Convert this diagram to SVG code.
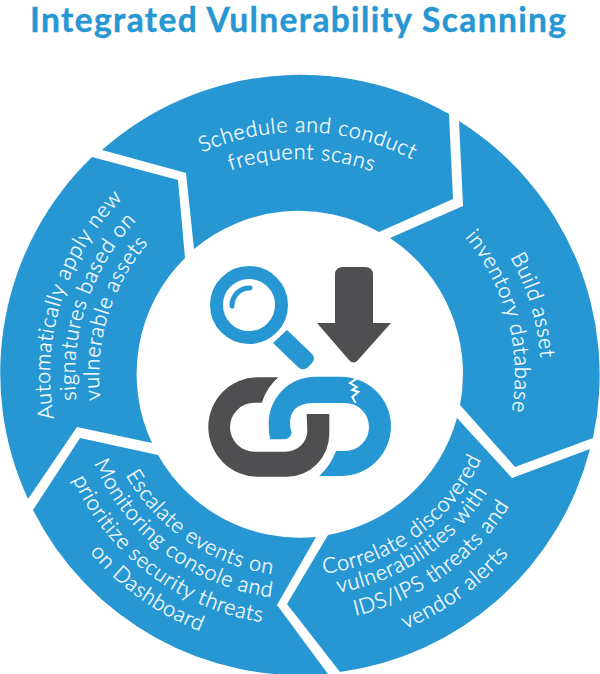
<svg xmlns="http://www.w3.org/2000/svg" width="600" height="674" viewBox="0 0 600 674">
<style>
.seg{fill:#2797d3}
.dark{fill:#4f4f51}
.blue{fill:#2797d3}
.t{font-family:"Lato","Open Sans","Liberation Sans",sans-serif;font-size:21.5px;font-weight:300;letter-spacing:.65px;fill:#fff;stroke:#fff;stroke-width:.3px;text-anchor:middle}
.title{font-family:"Lato","Open Sans","Liberation Sans",sans-serif;font-size:33.500px;font-weight:700;fill:#2797d3;stroke:#2797d3;stroke-width:.4px}
</style>
<defs>
<path id="u243" d="M57,375A243,243 0 0 1 543,375"/>
<path id="u216" d="M84,375A216,216 0 0 1 516,375"/>
<path id="u241" d="M59,375A241,241 0 0 1 541,375"/>
<path id="u215" d="M85,375A215,215 0 0 1 515,375"/>
<path id="u250" d="M50,375A250,250 0 0 1 550,375"/>
<path id="u225" d="M75,375A225,225 0 0 1 525,375"/>
<path id="u201" d="M99,375A201,201 0 0 1 501,375"/>
<path id="d200" d="M100,375A200,200 0 0 0 500,375"/>
<path id="d221" d="M79,375A221,221 0 0 0 521,375"/>
<path id="d247" d="M53,375A247,247 0 0 0 547,375"/>
<path id="d275" d="M25,375A275,275 0 0 0 575,375"/>
<path id="d201" d="M99,375A201,201 0 0 0 501,375"/>
<path id="d224" d="M76,375A224,224 0 0 0 524,375"/>
<path id="d250" d="M50,375A250,250 0 0 0 550,375"/>
</defs>
<text id="title" class="title" x="30" y="31.500" textLength="536" lengthAdjust="spacing">Integrated Vulnerability Scanning</text>
<g id="node-schedule">
<path class="seg" d="M102,150A300,300 0 0 1 449,114L453,199L379,232A163,163 0 0 0 194,249L186,173Z"/>
<text class="t" transform="rotate(1.900 300 375)"><textPath href="#u243" startOffset="50%">Schedule and conduct</textPath></text>
<text class="t" transform="rotate(0.500 300 375)"><textPath href="#u216" startOffset="50%">frequent scans</textPath></text>
</g>
<g id="node-build">
<path class="seg" d="M459,121A300,300 0 0 1 593,438L515,467L460,405A163,163 0 0 0 390,238L463,206Z"/>
<text class="t" transform="rotate(73.400 300 375)"><textPath href="#u241" startOffset="50%">Build asset</textPath></text>
<text class="t" transform="rotate(75 300 375)"><textPath href="#u215" startOffset="50%">inventory database</textPath></text>
</g>
<g id="node-correlate">
<path class="seg" d="M590,449A300,300 0 0 1 340,672L287,604L328,535A163,163 0 0 0 457,418L512,478Z"/>
<text class="t" transform="rotate(-36 300 375)"><textPath href="#d200" startOffset="50%">Correlate discovered</textPath></text>
<text class="t" transform="rotate(-34 300 375)"><textPath href="#d221" startOffset="50%">vulnerabilities with</textPath></text>
<text class="t" transform="rotate(-35.500 300 375)"><textPath href="#d247" startOffset="50%">IDS/IPS threats and</textPath></text>
<text class="t" transform="rotate(-36 300 375)"><textPath href="#d275" startOffset="50%">vendor alerts</textPath></text>
</g>
<g id="node-escalate">
<path class="seg" d="M328,674A300,300 0 0 1 33,510L80,438L158,455A163,163 0 0 0 316,537L277,605Z"/>
<text class="t" transform="rotate(34 300 375)"><textPath href="#d201" startOffset="50%">Escalate events on</textPath></text>
<text class="t" transform="rotate(37 300 375)"><textPath href="#d224" startOffset="50%">Monitoring console and</textPath></text>
<text class="t" transform="rotate(37 300 375)"><textPath href="#d250" startOffset="50%">prioritize security threats</textPath></text>
<text class="t" transform="rotate(35.500 300 375)"><textPath href="#d275" startOffset="50%">on Dashboard</textPath></text>
</g>
<g id="node-apply">
<path class="seg" d="M28,499A300,300 0 0 1 92,157L178,180L185,258A163,163 0 0 0 152,443L77,427Z"/>
<text class="t" transform="rotate(-72.500 300 375)"><textPath href="#u250" startOffset="50%">Automatically apply new</textPath></text>
<text class="t" transform="rotate(-71.500 300 375)"><textPath href="#u225" startOffset="50%">signatures based on</textPath></text>
<text class="t" transform="rotate(-73 300 375)"><textPath href="#u201" startOffset="50%">vulnerable assets</textPath></text>
</g>
<g id="icon-magnifier">
<circle cx="249" cy="305" r="32.500" fill="none" stroke="#2797d3" stroke-width="13"/>
<path d="M232,306A17.500,17.500 0 0 1 250,288" fill="none" stroke="#2797d3" stroke-width="5" stroke-linecap="round"/>
<path class="blue" d="M287,330L273,343L298,367Q302,371 307,368L312,363Q316,358 312,354Z"/>
</g>
<g id="icon-arrow">
<path class="dark" d="M343,267H365Q373,267 373,275V323H391L358,360Q353.500,365 349,360L317,323H335V275Q335,267 343,267Z"/>
</g>
<g id="icon-chain">
<path class="dark" d="M278.300,377.300H258A49.700,49.700 0 0 0 258,476.700H286.700A42.600,42.600 0 0 0 329.300,434V414H306.700L307.300,431A22,21 0 0 1 285,451.700H254.500A24.500,24.500 0 0 1 254.500,402.700H261.700Q267,387 278.300,377.300Z"/>
<path class="blue" d="M270,439.300Q268.700,432 268.700,423.300A46.600,46.600 0 0 1 315,376.700H341A50,49.650 0 0 1 341,476H319.300Q331,465 336,451H345A24,24 0 0 0 345,403H312Q290,404 290,423.300Q290,428 291.700,433Q290,439.300 283,439.300Z"/>
<path d="M358,378L350,383L356.700,387L352.300,390L358.300,392L352.300,397L355.700,403" fill="none" stroke="#fff" stroke-width="2"/>
</g>
</svg>
